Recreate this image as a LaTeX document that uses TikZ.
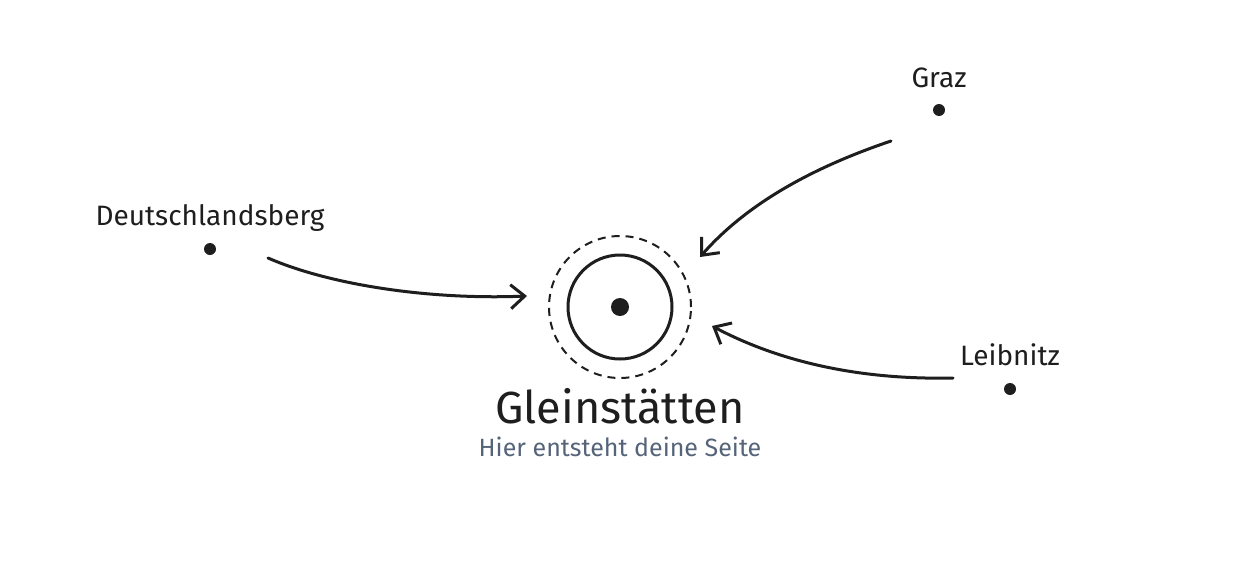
\documentclass[tikz,border=0pt]{standalone}
\usepackage{fontspec}
\setmainfont{Fira Sans}
\usetikzlibrary{arrows.meta}
\definecolor{ink}{HTML}{1E1E1E}
\definecolor{subink}{HTML}{56647A}
\tikzset{
  place/.style={circle,fill=ink,inner sep=0pt,minimum size=12pt},
  placelabel/.style={text=ink,font=\fontsize{28}{32}\selectfont,inner sep=0pt},
  flow/.style={draw=ink,line width=3pt,line cap=round,-{Straight Barb[length=14pt,width=24pt,line width=3pt]}},
}
\begin{document}
\begin{tikzpicture}[x=1pt,y=-1pt]
\useasboundingbox[fill=white] (0,0) rectangle (1240,560);
% centre
\node[circle,fill=ink,inner sep=0pt,minimum size=18pt] (core) at (620,307) {};
\node[circle,draw=ink,line width=3pt,inner sep=0pt,minimum size=104pt] (ring) at (620,307) {};
\node[circle,draw=ink,line width=2pt,dash pattern=on 8pt off 6pt,inner sep=0pt,minimum size=142pt] (halo) at (620,307) {};
\node[text=ink,font=\fontsize{45}{50}\selectfont,inner sep=0pt] (title) at (620,406) {Gleinstätten};
\node[text=subink,font=\fontsize{25}{29}\selectfont,inner sep=0pt] (sub) at (620,447) {Hier entsteht deine Seite};
% places
\node[place] (dl) at (210,249) {};
\node[placelabel] (dllab) at (210,218) {Deutschlandsberg};
\node[place] (gz) at (939,110) {};
\node[placelabel] (gzlab) at (939,78) {Graz};
\node[place] (lb) at (1010,389) {};
\node[placelabel] (lblab) at (1010,355) {Leibnitz};
% arrow ends
\coordinate (dlS) at (268,258);
\coordinate (dlE) at (527,296);
\coordinate (gzS) at (891,141);
\coordinate (gzE) at (700,257);
\coordinate (lbS) at (953,378);
\coordinate (lbE) at (712,326);
\draw[flow] (dlS) .. controls (330,285) and (430,300) .. (dlE);
\draw[flow] (gzS) .. controls (820,165) and (750,200) .. (gzE);
\draw[flow] (lbS) .. controls (860,380) and (780,362) .. (lbE);
\end{tikzpicture}
\end{document}
